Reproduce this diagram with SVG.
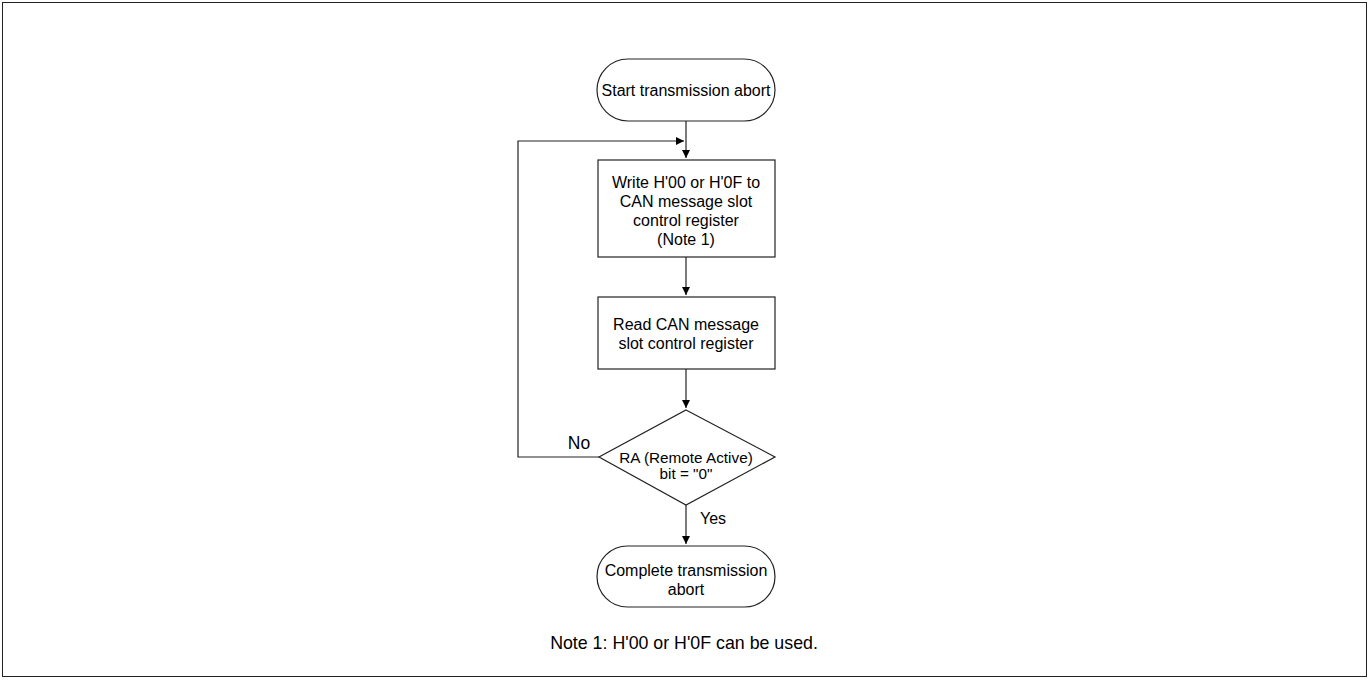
<svg xmlns="http://www.w3.org/2000/svg" width="1370" height="680" viewBox="0 0 1370 680">
<defs>
<marker id="ah" markerWidth="10" markerHeight="10" refX="8" refY="4" orient="auto" markerUnits="userSpaceOnUse">
<path d="M0,0 L8,4 L0,8 Z" fill="#000"/>
</marker>
<style>
.s{fill:#fff;stroke:#222;stroke-width:1.2}
.t{font-family:"Liberation Sans",Arial,sans-serif;font-size:16px;fill:#000;text-anchor:middle;dominant-baseline:central}
.d{font-size:15.3px}
.n{font-size:17.8px}
.c{fill:none;stroke:#222;stroke-width:1.2}
</style>
</defs>
<rect x="2.5" y="2.5" width="1364" height="674" fill="#fff" stroke="#222" stroke-width="1"/>
<g id="connectors">
<path class="c" d="M686,121 V158" marker-end="url(#ah)"/>
<path class="c" d="M599,457 H518 V141 H684" marker-end="url(#ah)"/>
<path class="c" d="M686,257 V295" marker-end="url(#ah)"/>
<path class="c" d="M686,369 V408" marker-end="url(#ah)"/>
<path class="c" d="M686,505 V544" marker-end="url(#ah)"/>
<text class="t" x="579" y="443" style="font-size:17.5px">No</text>
<text class="t" x="713" y="518">Yes</text>
</g>
<g id="start">
<rect class="s" x="597" y="59" width="178" height="62" rx="31" ry="31"/>
<text class="t" x="686" y="90">Start transmission abort</text>
</g>
<g id="write">
<rect class="s" x="598" y="160" width="177" height="97"/>
<text class="t" x="686" y="182">Write H'00 or H'0F to</text>
<text class="t" x="686" y="201">CAN message slot</text>
<text class="t" x="686" y="220">control register</text>
<text class="t" x="686" y="239">(Note 1)</text>
</g>
<g id="read">
<rect class="s" x="598" y="297" width="177" height="72"/>
<text class="t" x="686" y="324">Read CAN message</text>
<text class="t" x="686" y="343">slot control register</text>
</g>
<g id="decision">
<polygon class="s" points="686,410 775,457 686,505 599,457"/>
<text class="t d" x="686" y="457">RA (Remote Active)</text>
<text class="t d" x="686" y="473">bit = "0"</text>
</g>
<g id="complete">
<rect class="s" x="597" y="546" width="178" height="61" rx="30.5" ry="30.5"/>
<text class="t" x="686" y="570">Complete transmission</text>
<text class="t" x="686" y="589">abort</text>
</g>
<g id="note">
<text class="t n" x="684" y="643">Note 1: H'00 or H'0F can be used.</text>
</g>
</svg>
